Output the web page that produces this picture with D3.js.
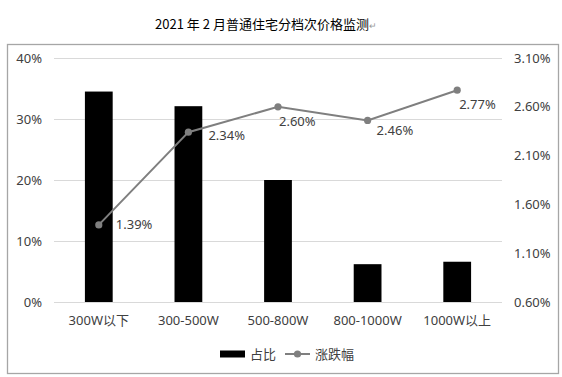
<!doctype html>
<html>
<head>
<meta charset="utf-8">
<script src="https://d3js.org/d3.v7.min.js"></script>
<style>
  body { margin: 0; background: #fff; }
  text { font-family: "Noto Sans", "Noto Sans CJK SC", sans-serif; }
</style>
</head>
<body>
<div id="chart"></div>
<script>
// data
var categories = ["300W以下", "300-500W", "500-800W", "800-1000W", "1000W以上"];
var shares = [34.5, 32.1, 20.0, 6.2, 6.6];          // 占比 (%)
var changes = [1.39, 2.34, 2.60, 2.46, 2.77];        // 涨跌幅 (%)
var leftTicks = [0, 10, 20, 30, 40];
var rightTicks = [0.60, 1.10, 1.60, 2.10, 2.60, 3.10];

// label nudges (manual placement as in the original)
var labelOffsets = [[17, 0], [20, 3], [1, 15], [9, 10], [2, 14]];

var W = 562, H = 377;
var margin = {top: 58, right: 60, bottom: 75, left: 54};
var plotW = 502 - margin.left, plotH = 302 - margin.top;

var svg = d3.select("#chart").append("svg")
    .attr("width", W).attr("height", H);

// title
var title = svg.append("text")
    .attr("x", 266).attr("y", 29)
    .attr("text-anchor", "middle")
    .style("font-family", "'Noto Sans CJK SC', sans-serif")
    .style("font-size", "13px")
    .attr("fill", "#000");
title.append("tspan").text("2021 年 2 月普通住宅分档次价格监测");
title.append("tspan").text("↵").attr("fill", "#999").style("font-size", "9px");

// chart frame
svg.append("rect")
    .attr("x", 7.5).attr("y", 44.5)
    .attr("width", 551).attr("height", 329)
    .attr("fill", "none").attr("stroke", "#a6a6a6").attr("stroke-width", 1.3);

var g = svg.append("g")
    .attr("transform", "translate(" + margin.left + "," + margin.top + ")");

var x = d3.scaleBand().domain(categories).range([0, plotW]).paddingInner(0.69).paddingOuter(0.345);
var xc = d3.scaleBand().domain(categories).range([0, plotW]);
var yL = d3.scaleLinear().domain([0, 40]).range([plotH, 0]);
var yR = d3.scaleLinear().domain([0.6, 3.1]).range([plotH, 0]);

// gridlines
g.selectAll(".grid").data(leftTicks).enter().append("line")
    .attr("x1", 0).attr("x2", plotW)
    .attr("y1", function (d) { return Math.round(yL(d)) + 0.5; })
    .attr("y2", function (d) { return Math.round(yL(d)) + 0.5; })
    .attr("stroke", "#d9d9d9").attr("stroke-width", 1);

// left axis
var axL = g.append("g")
    .call(d3.axisLeft(yL).tickValues(leftTicks).tickSize(0).tickPadding(12)
        .tickFormat(function (d) { return d + "%"; }));
axL.select(".domain").remove();
axL.selectAll("text").style("font-size", "13px").attr("fill", "#404040");

// right axis
var axR = g.append("g")
    .attr("transform", "translate(" + plotW + ",0)")
    .call(d3.axisRight(yR).tickValues(rightTicks).tickSize(0).tickPadding(12)
        .tickFormat(function (d) { return d.toFixed(2) + "%"; }));
axR.select(".domain").remove();
axR.selectAll("text").style("font-size", "13px").attr("fill", "#404040");

// bottom axis
var axB = g.append("g")
    .attr("transform", "translate(0," + plotH + ")")
    .call(d3.axisBottom(xc).tickSize(0).tickPadding(14));
axB.select(".domain").remove();
axB.selectAll("text").style("font-size", "13px").attr("fill", "#404040")
    .style("font-family", "'Noto Sans', 'Noto Sans CJK SC', sans-serif");

// bars
g.selectAll(".bar").data(shares).enter().append("rect")
    .attr("x", function (d, i) { return x(categories[i]); })
    .attr("y", function (d) { return yL(d); })
    .attr("width", x.bandwidth())
    .attr("height", function (d) { return plotH - yL(d); })
    .attr("fill", "#000");

// line
var cx = function (i) { return xc(categories[i]) + xc.bandwidth() / 2; };
g.append("path")
    .datum(changes)
    .attr("d", d3.line()
        .x(function (d, i) { return cx(i); })
        .y(function (d) { return yR(d); }))
    .attr("fill", "none").attr("stroke", "#7f7f7f").attr("stroke-width", 2);

g.selectAll(".dot").data(changes).enter().append("circle")
    .attr("cx", function (d, i) { return cx(i); })
    .attr("cy", function (d) { return yR(d); })
    .attr("r", 3.6).attr("fill", "#7f7f7f");

g.selectAll(".lbl").data(changes).enter().append("text")
    .attr("x", function (d, i) { return cx(i) + labelOffsets[i][0]; })
    .attr("y", function (d, i) { return yR(d) + labelOffsets[i][1]; })
    .attr("dy", "0.35em")
    .style("font-size", "13px").attr("fill", "#404040")
    .text(function (d) { return d.toFixed(2) + "%"; });

// legend
var lg = svg.append("g").attr("transform", "translate(0,354)");
lg.append("rect").attr("x", 220).attr("y", -3.5).attr("width", 25).attr("height", 7).attr("fill", "#000");
lg.append("text").attr("x", 250).attr("y", 0).attr("dy", "0.35em")
    .style("font-family", "'Noto Sans CJK SC', sans-serif")
    .style("font-size", "13px").attr("fill", "#404040").text("占比");
lg.append("line").attr("x1", 285).attr("x2", 310).attr("y1", 0).attr("y2", 0)
    .attr("stroke", "#7f7f7f").attr("stroke-width", 2);
lg.append("circle").attr("cx", 297.5).attr("cy", 0).attr("r", 3.6).attr("fill", "#7f7f7f");
lg.append("text").attr("x", 315).attr("y", 0).attr("dy", "0.35em")
    .style("font-family", "'Noto Sans CJK SC', sans-serif")
    .style("font-size", "13px").attr("fill", "#404040").text("涨跌幅");
</script>
</body>
</html>
